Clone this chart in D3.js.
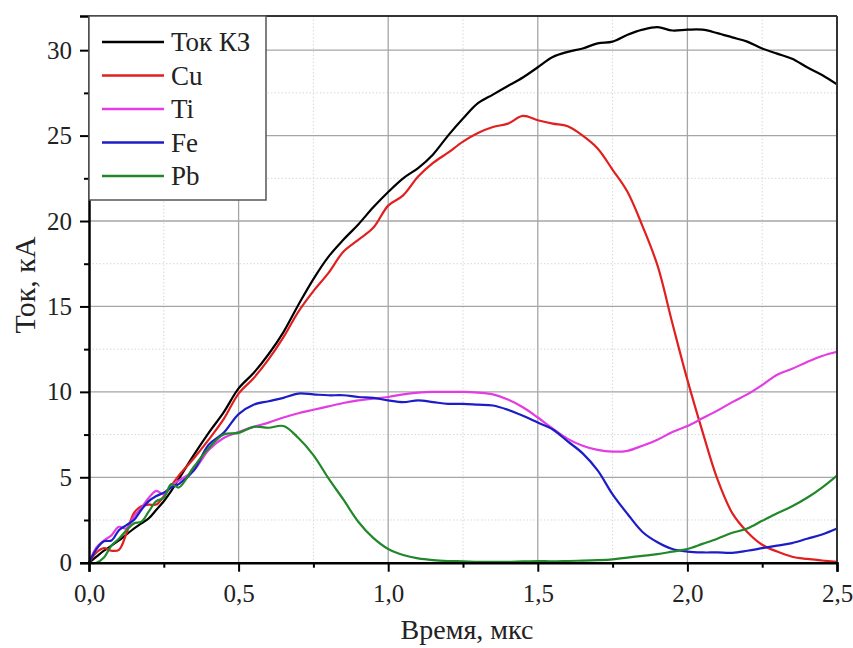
<!DOCTYPE html>
<html><head><meta charset="utf-8">
<script src="https://cdn.jsdelivr.net/npm/d3@7/dist/d3.min.js"></script>
<style>body{margin:0;background:#fff}svg{display:block}text{font-family:"Liberation Serif","Times New Roman",serif;fill:#222}</style>
</head><body><svg id="c" width="853" height="648"></svg>
<script>
const time = [0,0.025,0.05,0.075,0.1,0.125,0.15,0.175,0.2,0.225,0.25,0.275,0.3,0.35,0.4,0.45,0.5,0.55,0.6,0.65,0.7,0.75,0.8,0.85,0.9,0.95,1.0,1.05,1.1,1.15,1.2,1.25,1.3,1.35,1.4,1.45,1.5,1.55,1.6,1.65,1.7,1.75,1.8,1.85,1.9,1.95,2.0,2.05,2.1,2.15,2.2,2.25,2.3,2.35,2.4,2.45,2.5];
const tokKZ = [0,0.35,0.7,1.0,1.3,1.65,2.0,2.3,2.6,3.1,3.6,4.2,4.9,6.3,7.6,8.8,10.2,11.1,12.2,13.5,15.1,16.6,17.9,18.9,19.8,20.8,21.7,22.5,23.1,23.9,25.0,26.0,26.9,27.4,27.9,28.4,29.0,29.6,29.9,30.1,30.4,30.5,30.9,31.2,31.35,31.15,31.2,31.2,31.0,30.75,30.5,30.1,29.8,29.5,29.0,28.55,28.0];
const cu = [0,0.6,0.85,0.7,0.75,1.7,2.9,3.3,3.4,3.4,3.9,4.5,5.1,6.1,7.2,8.4,9.9,10.8,11.9,13.2,14.7,15.9,16.95,18.2,18.9,19.6,20.9,21.5,22.6,23.4,24.0,24.65,25.15,25.5,25.7,26.15,25.9,25.7,25.55,25.0,24.25,23.0,21.7,19.7,17.4,14.0,10.7,7.7,4.9,2.9,1.8,1.05,0.65,0.35,0.22,0.13,0.05];
const ti = [0,0.9,1.3,1.6,2.1,2.0,2.7,3.2,3.8,4.2,4.0,4.5,4.8,5.4,6.6,7.3,7.65,7.95,8.2,8.5,8.75,8.95,9.15,9.35,9.5,9.6,9.7,9.85,9.95,10.0,10.0,10.0,9.95,9.85,9.55,9.1,8.5,7.85,7.25,6.85,6.6,6.5,6.55,6.85,7.2,7.65,8.0,8.45,8.9,9.4,9.85,10.4,11.0,11.35,11.75,12.1,12.35];
const fe = [0,0.8,1.25,1.3,1.9,2.2,2.5,3.1,3.6,3.9,4.1,4.4,4.6,5.4,6.9,7.6,8.7,9.25,9.45,9.65,9.9,9.85,9.8,9.8,9.7,9.65,9.5,9.4,9.5,9.4,9.3,9.3,9.25,9.2,8.95,8.6,8.2,7.8,7.1,6.4,5.4,4.0,2.85,1.8,1.2,0.8,0.65,0.6,0.6,0.58,0.7,0.85,1.0,1.15,1.4,1.65,2.0];
const pb = [0,0,0.3,1.0,1.4,1.9,2.3,2.4,3.0,3.6,3.8,4.6,4.4,5.6,6.7,7.5,7.6,7.95,7.9,8.0,7.3,6.3,4.95,3.7,2.4,1.45,0.8,0.45,0.25,0.15,0.1,0.08,0.05,0.05,0.05,0.08,0.1,0.08,0.1,0.12,0.15,0.2,0.3,0.4,0.5,0.65,0.8,1.1,1.4,1.75,2.0,2.45,2.9,3.3,3.8,4.4,5.1];
const seriesNames = ["Ток КЗ","Cu","Ti","Fe","Pb"];
const seriesColors = ["#000000","#e21f1f","#e23ce2","#1c1cc8","#21882a"];
const seriesValues = [tokKZ,cu,ti,fe,pb];
const xTicks = [0,0.5,1.0,1.5,2.0,2.5];
const yTicks = [0,5,10,15,20,25,30];
const xMinor = [0.25,0.75,1.25,1.75,2.25];
const yMinor = [2.5,7.5,12.5,17.5,22.5,27.5];

const svg = d3.select("#c");
const L=89,R=837,T=16,B=562.7;
const x = d3.scaleLinear().domain([0,2.5]).range([L,R]);
const y = d3.scaleLinear().domain([0,32]).range([B,T]);

// minor grid
const g = svg.append("g");
g.selectAll(".mx").data(xMinor).join("line").attr("x1",d=>x(d)).attr("x2",d=>x(d)).attr("y1",T).attr("y2",B).attr("stroke","#d8d8d8").attr("stroke-dasharray","1.5,2");
g.selectAll(".my").data(yMinor).join("line").attr("x1",L).attr("x2",R).attr("y1",d=>y(d)).attr("y2",d=>y(d)).attr("stroke","#d8d8d8").attr("stroke-dasharray","1.5,2");
// major grid
g.selectAll(".gx").data(xTicks.slice(1,-1)).join("line").attr("x1",d=>x(d)).attr("x2",d=>x(d)).attr("y1",T).attr("y2",B).attr("stroke","#a6a6a6").attr("stroke-width",1.3);
g.selectAll(".gy").data(yTicks.slice(1)).join("line").attr("x1",L).attr("x2",R).attr("y1",d=>y(d)).attr("y2",d=>y(d)).attr("stroke","#a6a6a6").attr("stroke-width",1.3);

// lines
const line = d3.line().x((d,i)=>x(time[i])).y(d=>y(d)).curve(d3.curveCatmullRom.alpha(0.5));
svg.append("g").selectAll("path").data(seriesValues).join("path")
  .attr("d",d=>line(d)).attr("fill","none").attr("stroke",(d,i)=>seriesColors[i]).attr("stroke-width",2.2).attr("stroke-linejoin","round");

// frame
svg.append("line").attr("x1",L).attr("x2",R).attr("y1",T).attr("y2",T).attr("stroke","#333").attr("stroke-width",2);
svg.append("line").attr("x1",R).attr("x2",R).attr("y1",T).attr("y2",B).attr("stroke","#333").attr("stroke-width",2);

// axes
const fmt = d=>d3.format(".1f")(d).replace(".",",");
const xAxis = svg.append("g").attr("transform",`translate(0,${B})`)
  .call(d3.axisBottom(x).tickValues(xTicks).tickFormat(fmt).tickSize(9).tickPadding(13));
xAxis.selectAll(".tick text").attr("font-size",25).style("font-family","Liberation Serif");
svg.append("g").attr("transform",`translate(0,${B})`)
  .call(d3.axisBottom(x).tickValues(xMinor).tickFormat("").tickSize(5)).select(".domain").remove();
const yAxis = svg.append("g").attr("transform",`translate(${L},0)`)
  .call(d3.axisLeft(y).tickValues(yTicks).tickSize(9).tickPadding(8));
yAxis.selectAll(".tick text").attr("font-size",25).style("font-family","Liberation Serif");
svg.append("g").attr("transform",`translate(${L},0)`)
  .call(d3.axisLeft(y).tickValues(yMinor).tickFormat("").tickSize(5)).select(".domain").remove();
svg.selectAll(".domain").attr("stroke","#000").attr("stroke-width",2.5);
svg.selectAll(".tick line").attr("stroke","#000").attr("stroke-width",2);
svg.selectAll(".tick text").attr("fill","#222");

// titles
svg.append("text").attr("x",467).attr("y",639).attr("text-anchor","middle").attr("font-size",28).text("Время, мкс");
svg.append("text").attr("transform","translate(35,285) rotate(-90)").attr("text-anchor","middle").attr("font-size",30).text("Ток, кА");

// legend
const lg = svg.append("g");
lg.append("rect").attr("x",L).attr("y",T).attr("width",177).attr("height",184).attr("fill","#fff").attr("stroke","#555").attr("stroke-width",1.5);
const ly = d3.scalePoint().domain(seriesNames).range([42,176]);
const it = lg.selectAll("g.it").data(seriesNames).join("g");
it.append("line").attr("x1",102).attr("x2",164).attr("y1",d=>ly(d)).attr("y2",d=>ly(d)).attr("stroke",(d,i)=>seriesColors[i]).attr("stroke-width",2.5);
it.append("text").attr("x",171).attr("y",d=>ly(d)).attr("dy","0.35em").attr("font-size",27).text(d=>d);
</script></body></html>
